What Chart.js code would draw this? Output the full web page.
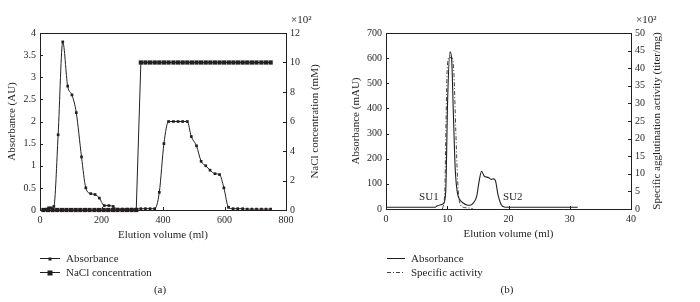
<!DOCTYPE html>
<html>
<head>
<meta charset="utf-8">
<script src="https://cdn.jsdelivr.net/npm/chart.js@4.4.1/dist/chart.umd.min.js"></script>
<style>
  body { margin: 0; background: #fff; width: 700px; height: 302px; position: relative; overflow: hidden;
         font-family: "Liberation Serif", "DejaVu Serif", serif; color: #231f20; }
  .panel { position: absolute; top: 0; width: 350px; height: 302px; }
  .panel canvas { position: absolute; left: 0; top: 0; }
  .legend { position: absolute; top: 251px; font-size: 11px; }
  .row { display: flex; align-items: center; height: 14px; }
  .swatch { position: relative; width: 20px; height: 14px; margin-right: 6px; }
  .swatch .ln { position: absolute; left: 0; right: 0; top: 7px; height: 1px; background: #231f20; }
  .swatch .dd { position: absolute; left: 0; right: 0; top: 7px; height: 1px;
                background: repeating-linear-gradient(to right, #444 0 4px, transparent 4px 6px, #444 6px 7px, transparent 7px 9px); }
  .swatch .sq { position: absolute; background: #231f20; left: 50%; top: 7.5px; transform: translate(-50%, -50%); }
  .caption { position: absolute; top: 283px; font-size: 11px; transform: translateX(-50%); }
</style>
</head>
<body>
<div class="panel" style="left:0">
  <canvas id="chartA" width="350" height="302"></canvas>
  <div class="legend" style="left:40px">
    <div class="row"><div class="swatch"><div class="ln"></div><div class="sq" style="width:3px;height:3px"></div></div>Absorbance</div>
    <div class="row"><div class="swatch"><div class="ln"></div><div class="sq" style="width:5px;height:5px"></div></div>NaCl concentration</div>
  </div>
  <div class="caption" style="left:160px">(a)</div>
</div>
<div class="panel" style="left:350px">
  <canvas id="chartB" width="350" height="302"></canvas>
  <div class="legend" style="left:37px">
    <div class="row"><div class="swatch" style="width:18px"><div class="ln"></div></div>Absorbance</div>
    <div class="row"><div class="swatch" style="width:18px"><div class="dd"></div></div>Specific activity</div>
  </div>
  <div class="caption" style="left:157px">(b)</div>
</div>
<script>
// ---- panel (a): ion exchange ----
const absVolume = [11, 20, 28, 36, 45, 59, 74, 90, 104, 118, 135, 149, 165, 179, 193, 209, 224, 238, 253, 268,
  284, 298, 313, 328, 343, 358, 373, 388, 403, 418, 434, 449, 464, 479, 492, 509, 524, 539, 553, 569,
  584, 598, 613, 628, 643, 659, 674, 689, 704, 720, 735, 750]
const absValues = [0, 0.02, 0.05, 0.05, 0.08, 1.7, 3.8, 2.8, 2.6, 2.2, 1.2, 0.5, 0.37, 0.35, 0.27, 0.1, 0.1, 0.08, 0.02, 0.02,
  0.02, 0.02, 0.02, 0.03, 0.03, 0.03, 0.03, 0.4, 1.5, 2.0, 2.0, 2.0, 2.0, 2.0, 1.66, 1.45, 1.1, 1.0, 0.9, 0.82,
  0.8, 0.5, 0.06, 0.03, 0.03, 0.03, 0.02, 0.02, 0.02, 0.02, 0.02, 0.02]
const naclVolume = [11, 26, 41, 56, 71, 86, 101, 116, 131, 146, 161, 177, 192, 207, 222, 237, 252, 268, 283, 298,
  313, 328, 343, 358, 373, 388, 403, 418, 434, 449, 464, 479, 494, 509, 524, 539, 554, 569, 584, 599,
  614, 629, 644, 659, 674, 689, 704, 720, 735, 750]
const naclValues = [0, 0, 0, 0, 0, 0, 0, 0, 0, 0, 0, 0, 0, 0, 0, 0, 0, 0, 0, 0,
  0, 10, 10, 10, 10, 10, 10, 10, 10, 10, 10, 10, 10, 10, 10, 10, 10, 10, 10, 10,
  10, 10, 10, 10, 10, 10, 10, 10, 10, 10]

// ---- panel (b): gel filtration ----
const bVolume = [0, 8, 8.3, 8.8, 9.4, 9.75, 10.07, 10.45, 10.72, 11.0, 11.3, 11.65, 12.1, 12.6, 13.2, 13.7, 14.2,
  14.8, 15.2, 15.6, 16.0, 16.7, 17.2, 17.6, 17.9, 18.3, 18.8, 19.3, 20, 31.3]
const bAbsorbance = [7, 7, 12, 16, 22, 70, 440, 625, 595, 380, 160, 65, 36, 24, 16, 15, 22,
  50, 110, 150, 132, 125, 118, 120, 110, 55, 18, 8, 7, 7]
const actVolume = [9.2, 9.6, 9.8, 10.0, 10.3, 10.8, 11.1, 11.4, 11.7, 12.0, 12.6, 13.5, 14.2]
const actValues = [0, 5, 25, 40, 43, 43, 38, 22, 8, 2, 0.5, 0.3, 0]
const peakLabels = ['SU1', 'SU2']
const peakVolume = [7, 20.7]
const peakHeight = [49, 49]

const ink = '#231f20'
const serif = '"Liberation Serif", "DejaVu Serif", serif'
Chart.defaults.font.family = serif
Chart.defaults.font.size = 10
Chart.defaults.color = ink

const pts = (xs, ys) => xs.map((x, i) => ({x: x, y: ys[i]}))

// box around plot, inward ticks, right title read bottom-to-top, x10^2 note, peak labels
const framePlugin = {
    id: 'frame',
    afterDatasetsDraw(chart, args, opts) {
        const {ctx, chartArea: a} = chart
        ctx.save()
        ctx.strokeStyle = ink
        ctx.lineWidth = 1
        ctx.strokeRect(Math.round(a.left) + 0.5, Math.round(a.top) + 0.5,
            Math.round(a.right - a.left), Math.round(a.bottom - a.top))
        Object.values(chart.scales).forEach(s => {
            s.ticks.forEach(t => {
                const p = Math.round(s.getPixelForValue(t.value)) + 0.5
                ctx.beginPath()
                if (s.axis === 'x') {
                    ctx.moveTo(p, a.bottom); ctx.lineTo(p, a.bottom - 3)
                } else if (s.position === 'left') {
                    ctx.moveTo(a.left, p); ctx.lineTo(a.left + 3, p)
                } else {
                    ctx.moveTo(a.right, p); ctx.lineTo(a.right - 3, p)
                }
                ctx.stroke()
            })
        })
        ctx.fillStyle = ink
        ctx.font = '11px ' + serif
        ctx.textAlign = 'left'
        ctx.textBaseline = 'middle'
        ctx.fillText('×10²', a.right + 5, a.top - 13)
        if (opts.labels) {
            const xs = chart.scales.x, ys = chart.scales.y
            ctx.textAlign = 'center'
            opts.labels.forEach((txt, i) => {
                ctx.fillText(txt, xs.getPixelForValue(opts.labelX[i]), ys.getPixelForValue(opts.labelY[i]))
            })
        }
        ctx.translate(opts.titleX, (a.top + a.bottom) / 2)
        ctx.rotate(-Math.PI / 2)
        ctx.textAlign = 'center'
        ctx.fillText(opts.rightTitle, 0, 0)
        ctx.restore()
    }
}

function axes(xMax, xStep, yMax, yStep, y1Max, y1Step, leftW, rightW, yTitle) {
    const titleFont = {size: 11, family: serif}
    return {
        x: {
            type: 'linear', min: 0, max: xMax,
            ticks: {stepSize: xStep, padding: 4, maxRotation: 0},
            grid: {display: false, drawTicks: false},
            border: {display: false},
            title: {display: true, text: 'Elution volume (ml)', font: titleFont, padding: 0},
            afterFit: s => { s.height = 32 }
        },
        y: {
            position: 'left', min: 0, max: yMax,
            ticks: {stepSize: yStep, padding: 4, callback: v => String(v)},
            grid: {display: false, drawTicks: false},
            border: {display: false},
            title: {display: true, text: yTitle, font: titleFont, padding: 0},
            afterFit: s => { s.width = leftW }
        },
        y1: {
            position: 'right', min: 0, max: y1Max,
            ticks: {stepSize: y1Step, padding: 4, callback: v => String(v)},
            grid: {display: false, drawTicks: false},
            border: {display: false},
            afterFit: s => { s.width = rightW }
        }
    }
}

new Chart(document.getElementById('chartA'), {
    type: 'line',
    data: {
        datasets: [{
            label: 'Absorbance',
            data: pts(absVolume, absValues),
            borderColor: ink, backgroundColor: ink, borderWidth: 1,
            pointStyle: 'rect', pointRadius: 1.9, pointBorderWidth: 0,
            cubicInterpolationMode: 'monotone', clip: false, yAxisID: 'y'
        }, {
            label: 'NaCl concentration',
            data: pts(naclVolume, naclValues),
            borderColor: ink, backgroundColor: ink, borderWidth: 1,
            pointStyle: 'rect', pointRadius: 3, pointBorderWidth: 0,
            tension: 0, clip: false, yAxisID: 'y1'
        }]
    },
    options: {
        responsive: false, animation: false,
        layout: {padding: {left: 6, right: 0, top: 33, bottom: 60}},
        plugins: {
            legend: {display: false}, tooltip: {enabled: false},
            frame: {rightTitle: 'NaCl concentration (mM)', titleX: 315}
        },
        scales: axes(800, 200, 4, 0.5, 12, 2, 34, 64, 'Absorbance (AU)')
    },
    plugins: [framePlugin]
})

new Chart(document.getElementById('chartB'), {
    type: 'line',
    data: {
        datasets: [{
            label: 'Absorbance',
            data: pts(bVolume, bAbsorbance),
            borderColor: ink, borderWidth: 1.1, pointRadius: 0,
            cubicInterpolationMode: 'monotone', yAxisID: 'y'
        }, {
            label: 'Specific activity',
            data: pts(actVolume, actValues),
            borderColor: '#444', borderWidth: 1, borderDash: [4, 2, 1, 2], pointRadius: 0,
            cubicInterpolationMode: 'monotone', yAxisID: 'y1'
        }]
    },
    options: {
        responsive: false, animation: false,
        layout: {padding: {left: 0, right: 0, top: 33, bottom: 61}},
        plugins: {
            legend: {display: false}, tooltip: {enabled: false},
            frame: {
                rightTitle: 'Specific agglutination activity (titer/mg)', titleX: 307,
                labels: peakLabels, labelX: peakVolume, labelY: peakHeight
            }
        },
        scales: axes(40, 10, 700, 100, 50, 5, 36, 69, 'Absorbance (mAU)')
    },
    plugins: [framePlugin]
})
</script>
</body>
</html>
